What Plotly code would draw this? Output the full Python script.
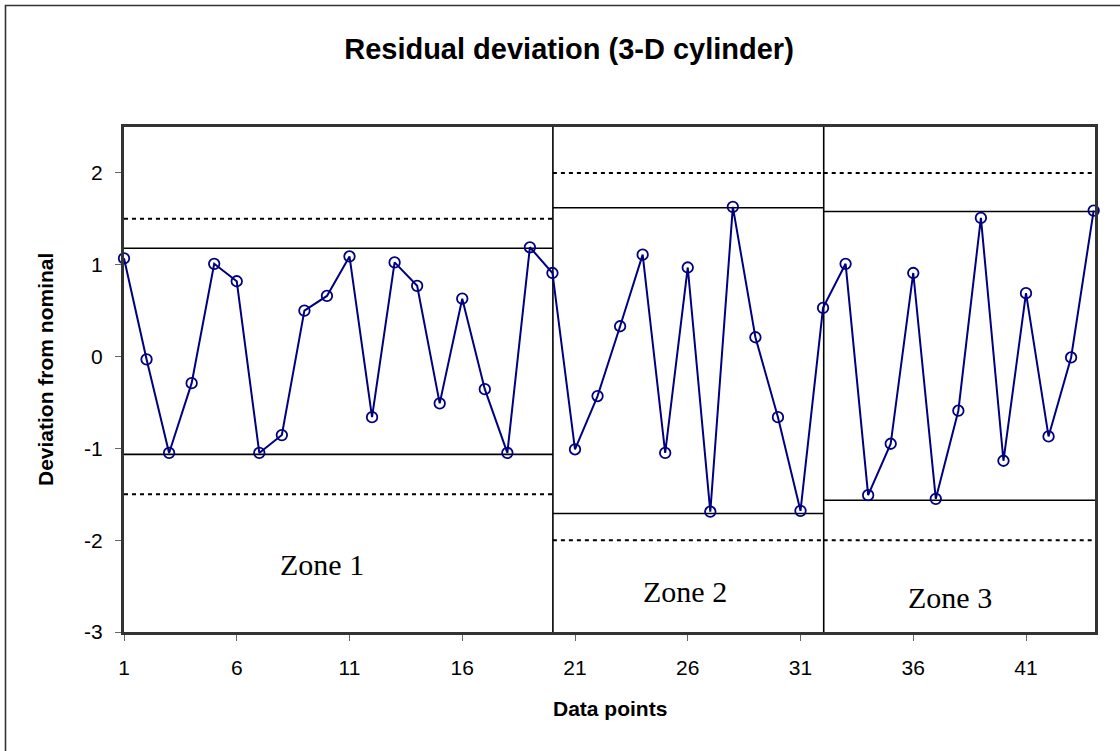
import plotly.graph_objects as go

# ---- data ----
points = list(range(1, 45))
deviation = [1.07, -0.03, -1.05, -0.29, 1.01, 0.82, -1.05, -0.855, 0.50, 0.66,
             1.09, -0.66, 1.025, 0.77, -0.51, 0.63, -0.355, -1.05, 1.19, 0.91,
             -1.01, -0.43, 0.33, 1.11, -1.05, 0.97, -1.69, 1.63, 0.21, -0.66,
             -1.68, 0.53, 1.01, -1.51, -0.95, 0.91, -1.55, -0.59, 1.51, -1.135,
             0.69, -0.87, -0.01, 1.59]

zone_names = ["Zone 1", "Zone 2", "Zone 3"]
zone_start = [1, 20.02, 32.03]
zone_end = [20.02, 32.03, 44.06]
dividers = [20.02, 32.03]
inner_upper = [1.18, 1.62, 1.58]
inner_lower = [-1.065, -1.71, -1.565]
outer_upper = [1.5, 2.0, 2.0]
outer_lower = [-1.5, -2.0, -2.0]
zone_label_x = [9.76, 25.86, 37.63]
zone_label_y = [-2.27, -2.56, -2.62]

x_tickvals = [1, 6, 11, 16, 21, 26, 31, 36, 41]
y_tickvals = [-3, -2, -1, 0, 1, 2]

X_RANGE = [1, 44.06]
Y_RANGE = [-3, 2.5]

fig = go.Figure()

fig.add_trace(go.Scatter(
    x=points, y=deviation, mode="lines+markers",
    line=dict(color="#000080", width=2),
    marker=dict(symbol="circle-open", size=10.5, color="#000080",
                line=dict(width=1.8, color="#000080")),
    showlegend=False, cliponaxis=False,
))

shapes = []
for i in range(len(zone_names)):
    for val, dash in ((inner_upper[i], "solid"), (inner_lower[i], "solid"),
                      (outer_upper[i], "4px,4px"), (outer_lower[i], "4px,4px")):
        shapes.append(dict(type="line", xref="x", yref="y",
                           x0=zone_start[i], x1=zone_end[i], y0=val, y1=val,
                           line=dict(color="black", width=1.6 if dash == "solid" else 2, dash=dash),
                           layer="below"))
for d in dividers:
    shapes.append(dict(type="line", xref="x", yref="y", x0=d, x1=d,
                       y0=Y_RANGE[0], y1=Y_RANGE[1],
                       line=dict(color="black", width=1.6), layer="below"))

# outer chart border
W, H = 1120, 751
ML, MR, MT, MB = 124, 25, 127, 119
pw, ph = W - ML - MR, H - MT - MB


def px_to_paper_x(px):
    return (px - ML) / pw


def px_to_paper_y(py):
    return (H - MB - py) / ph


shapes.append(dict(type="rect", xref="paper", yref="paper",
                   x0=px_to_paper_x(5.5), x1=px_to_paper_x(1130),
                   y0=px_to_paper_y(760), y1=px_to_paper_y(5.5),
                   line=dict(color="#333333", width=1.6), fillcolor="rgba(0,0,0,0)"))

annotations = []
for i, name in enumerate(zone_names):
    annotations.append(dict(x=zone_label_x[i], y=zone_label_y[i], xref="x", yref="y",
                            text=name, showarrow=False,
                            xanchor="center", yanchor="middle",
                            font=dict(family="Liberation Serif, Times New Roman, serif",
                                      size=30, color="black")))

annotations.append(dict(x=px_to_paper_x(45), y=px_to_paper_y(370), xref="paper", yref="paper",
                        text="<b>Deviation from nominal</b>", textangle=-90, showarrow=False,
                        xanchor="center", yanchor="middle",
                        font=dict(family="Liberation Sans, Arial, sans-serif", size=21, color="black")))
annotations.append(dict(x=0.5, y=px_to_paper_y(708), xref="paper", yref="paper",
                        text="<b>Data points</b>", showarrow=False,
                        xanchor="center", yanchor="middle",
                        font=dict(family="Liberation Sans, Arial, sans-serif", size=21, color="black")))

fig.update_layout(
    width=W, height=H,
    margin=dict(l=ML, r=MR, t=MT, b=MB),
    paper_bgcolor="white", plot_bgcolor="white",
    title=dict(text="<b>Residual deviation (3-D cylinder)</b>",
               x=569 / W, xref="container", xanchor="center",
               y=1 - 49 / H, yref="container", yanchor="middle",
               font=dict(family="Liberation Sans, Arial, sans-serif", size=29, color="black")),
    shapes=shapes, annotations=annotations,
    font=dict(family="Liberation Sans, Arial, sans-serif", size=21, color="black"),
)

fig.update_xaxes(range=X_RANGE, tickvals=x_tickvals, ticktext=[str(v) for v in x_tickvals],
                 showgrid=False, zeroline=False, showline=True, mirror=True,
                 linecolor="#333333", linewidth=3, ticks="outside", ticklen=6,
                 tickcolor="#666666", tickwidth=1, ticklabelstandoff=9,
                 tickfont=dict(size=21))
fig.update_yaxes(range=Y_RANGE, tickvals=y_tickvals, ticktext=[str(v) for v in y_tickvals],
                 showgrid=False, zeroline=False, showline=True, mirror=True,
                 linecolor="#333333", linewidth=3, ticks="outside", ticklen=6,
                 tickcolor="#666666", tickwidth=1, ticklabelstandoff=8,
                 tickfont=dict(size=21))

fig.write_html("out.html", config={"displayModeBar": False},
               post_script="document.body.style.margin='0';document.body.style.padding='0';")
